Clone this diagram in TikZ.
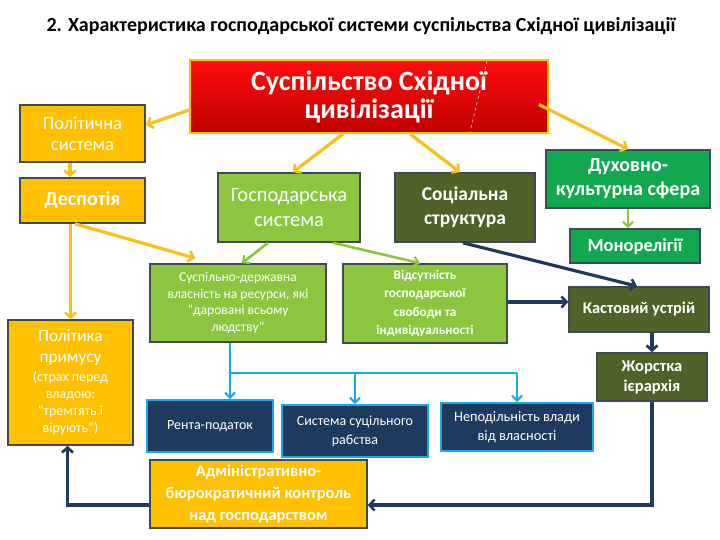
\documentclass[tikz,border=0pt]{standalone}
\usepackage{fontspec}
\setmainfont{Carlito}
\usetikzlibrary{arrows.meta}
\definecolor{cAmber}{HTML}{FFC000}
\definecolor{cGray}{HTML}{3F4A57}
\definecolor{cLGreen}{HTML}{8CC63F}
\definecolor{cOlive}{HTML}{4F6228}
\definecolor{cGreen}{HTML}{12A850}
\definecolor{cNavy}{HTML}{1F3A5F}
\definecolor{cCyan}{HTML}{1AA8E6}
\definecolor{cArrowY}{HTML}{F9C01A}
\definecolor{cArrowG}{HTML}{8CC63F}
\definecolor{cArrowN}{HTML}{1E3A5F}
\tikzset{
  box/.style={draw=cGray, line width=1.6pt, align=center, text=white, inner sep=2pt, anchor=center},
  amberbox/.style={box, fill=cAmber},
  lgreenbox/.style={box, fill=cLGreen},
  olivebox/.style={box, fill=cOlive},
  greenbox/.style={box, fill=cGreen},
  navybox/.style={box, fill=cNavy, draw=cCyan},
  yarr/.style={draw=cArrowY, line width=3.2pt, -{Straight Barb[length=5pt,width=11pt,line width=2.6pt]}},
  garr/.style={draw=cArrowG, line width=2.6pt, -{Straight Barb[length=5pt,width=10pt,line width=2.2pt]}},
  narr/.style={draw=cArrowN, line width=3.2pt, -{Straight Barb[length=5pt,width=11pt,line width=2.6pt]}},
  carr/.style={draw=cCyan, line width=2.6pt, -{Straight Barb[length=5pt,width=10pt,line width=2.2pt]}},
  cline/.style={draw=cCyan, line width=2.6pt},
}
\newcommand{\fsz}[2]{\fontsize{#1}{#2}\selectfont}
\begin{document}
\begin{tikzpicture}[x=1pt,y=-1pt]
\useasboundingbox (0,0) rectangle (720,540);
\fill[white] (0,0) rectangle (720,540);

\node[anchor=center, font=\fsz{20}{24}\bfseries] (title) at (361,26) {2. Характеристика господарської системи суспільства Східної цивілізації};

% red box
\node[box, draw=cAmber, line width=1.8pt, top color=red!95!white, bottom color=red!75!black, minimum width=358pt, minimum height=73pt, font=\fsz{28}{28}\bfseries, text=white] (red) at (369,96.5) {Суспільство Східної\\цивілізації};
\draw[white!85!red, line width=0.6pt, dashed] (487,61) -- (470,132);

\node[amberbox, minimum width=125pt, minimum height=57pt, font=\fsz{18.5}{21}] (pol) at (82.5,133.5) {Політична\\система};
\node[amberbox, minimum width=125pt, minimum height=45pt, font=\fsz{20}{24}\bfseries] (desp) at (82.5,200.5) {Деспотія};
\node[lgreenbox, minimum width=142pt, minimum height=69pt, font=\fsz{20.5}{25}] (gosp) at (289,207.5) {Господарська\\система};
\node[olivebox, minimum width=140pt, minimum height=69pt, font=\fsz{19.5}{24}\bfseries] (soc) at (465,207.5) {Соціальна\\структура};
\node[greenbox, minimum width=164pt, minimum height=58pt, font=\fsz{20}{24}\bfseries] (duh) at (628,179) {Духовно-\\культурна сфера};
\node[greenbox, minimum width=130pt, minimum height=34pt, font=\fsz{18.5}{22}\bfseries] (mono) at (635,246) {Монорелігії};
\node[lgreenbox, minimum width=176pt, minimum height=78pt, font=\fsz{13.5}{16.7}] (susp) at (238,303) {Суспільно-державна\\власність на ресурси, які\\“даровані всьому\\людству”};
\node[lgreenbox, minimum width=164pt, minimum height=79pt, font=\fsz{13.2}{18.5}\bfseries] (vids) at (425,303.5) {Відсутність\\господарської\\свободи та\\індивідуальності};
\node[olivebox, minimum width=140pt, minimum height=45pt, font=\fsz{16.4}{20}\bfseries] (kast) at (639,309.5) {Кастовий устрій};
\node[olivebox, minimum width=110pt, minimum height=48pt, font=\fsz{16.5}{20}\bfseries] (zhor) at (652,377) {Жорстка\\ієрархія};
\node[amberbox, minimum width=125pt, minimum height=125pt, font=\fsz{14}{17}] (polit) at (70.5,382.5) {{\fsz{17.3}{22}Політика}\\[4pt]{\fsz{17.3}{22}примусу}\\[2pt](страх перед\\владою:\\“тремтять і\\вірують”)};
\node[navybox, minimum width=126pt, minimum height=52pt, font=\fsz{14}{17}] (renta) at (210,426) {Рента-податок};
\node[navybox, minimum width=146pt, minimum height=52pt, font=\fsz{14}{19}] (sys) at (355,431) {Система суцільного\\рабства};
\node[navybox, minimum width=152pt, minimum height=48pt, font=\fsz{14.4}{19}] (nepod) at (517,427) {Неподільність влади\\від власності};
\node[amberbox, minimum width=217pt, minimum height=68pt, font=\fsz{16.5}{22}\bfseries] (adm) at (258.5,494) {Адміністративно-\\бюрократичний контроль\\над господарством};

% yellow arrows
\draw[yarr] ([yshift=-13.5pt]red.west) -- ([yshift=8.5pt]pol.east);
\draw[yarr] ([xshift=-26pt]red.south) -- ([xshift=4pt]gosp.north);
\draw[yarr] ([xshift=41pt]red.south) -- ([xshift=-5pt]soc.north);
\draw[yarr] ([xshift=-10pt,yshift=-8pt]red.east) -- (duh.north);
\draw[yarr] ([xshift=-12.5pt]pol.south) -- ([xshift=-12.5pt]desp.north);
\draw[yarr] (polit.north |- desp.south) -- (polit.north);
\draw[yarr] ([xshift=-7.5pt]desp.south) -- ([xshift=46pt,yshift=5pt]susp.north west);

% green arrows
\draw[garr] ([xshift=-21pt]gosp.south) -- ([xshift=4pt]susp.north);
\draw[garr] ([xshift=44pt]gosp.south) -- ([xshift=-5pt]vids.north);
\draw[garr] (duh.south) -- (duh.south |- mono.north);

% navy arrows
\draw[narr] ([xshift=-2pt]soc.south) -- ([xshift=-2pt]kast.north);
\draw[narr] ([yshift=1.5pt]vids.east) -- ([yshift=1.5pt]vids.east -| kast.west);
\draw[narr] (kast.south -| zhor.north) -- (zhor.north);
\draw[narr] (zhor.south) |- ([yshift=-11pt]adm.east);
\draw[narr] ([yshift=-11pt]adm.west) -| ([xshift=-3pt]polit.south);

% cyan bus
\coordinate (bus) at (230,373);
\draw[cline] ([xshift=-8pt]susp.south) -- (bus) -- (bus -| nepod.north);
\draw[carr] (bus) -- (bus |- renta.north);
\draw[carr] (bus -| sys.north) -- (sys.north);
\draw[carr] (bus -| nepod.north) -- (nepod.north);
\end{tikzpicture}
\end{document}
